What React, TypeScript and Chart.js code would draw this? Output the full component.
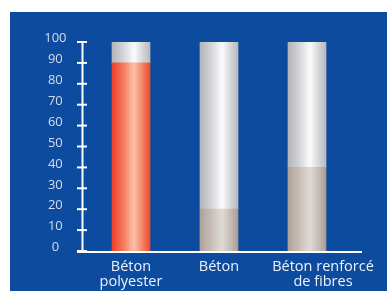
import React, { useEffect, useRef } from "react";
import { Chart, registerables } from "chart.js";

Chart.register(...registerables);

const categories: string[][] = [["Béton", "polyester"], ["Béton"], ["Béton renforcé", "de fibres"]];
const baseValues = [90, 20, 40];
const topValues = [10, 80, 60];
const yMin = 0;
const yMax = 100;
const yStep = 10;

const BLUE = "#0d4b9e";
const RED_STOPS: [number, string][] = [[0, "#ee4128"], [0.3, "#f57a5e"], [0.58, "#fcc2a8"], [0.85, "#f47458"], [1, "#ee4a30"]];
const BEIGE_STOPS: [number, string][] = [[0, "#aea197"], [0.3, "#c9bfb8"], [0.58, "#e0dad5"], [0.85, "#c0b5ad"], [1, "#a99c92"]];
const GREY_STOPS: [number, string][] = [[0, "#b3b5b9"], [0.3, "#d4d5d8"], [0.58, "#fbfbfc"], [0.85, "#cfd0d3"], [1, "#b8babe"]];
const LABEL_SHIFT = [0, 0, 16];

function gradFor(c: any, stops: [number, string][], fallback: string) {
  const chart = c.chart;
  const xs = chart.scales && chart.scales.x;
  if (!xs || !chart.chartArea) return fallback;
  const x = xs.getPixelForValue(c.dataIndex);
  const w = 38;
  const g = chart.ctx.createLinearGradient(x - w / 2, 0, x + w / 2, 0);
  stops.forEach(([o, col]) => g.addColorStop(o, col));
  return g;
}

const axisPlugin = {
  id: "customAxes",
  beforeDraw(chart: any) {
    const ctx = chart.ctx;
    ctx.save();
    ctx.fillStyle = "#ffffff";
    ctx.fillRect(0, 0, chart.width, chart.height);
    ctx.fillStyle = BLUE;
    ctx.fillRect(10, 12, chart.width - 10, chart.height - 12);
    ctx.restore();
  },
  afterDraw(chart: any) {
    const ctx = chart.ctx;
    const ys = chart.scales.y;
    const xs = chart.scales.x;
    const top = ys.getPixelForValue(yMax);
    const zero = ys.getPixelForValue(yMin);
    ctx.save();
    ctx.strokeStyle = "#ffffff";
    ctx.lineWidth = 2;
    ctx.beginPath();
    ctx.moveTo(82.5, top);
    ctx.lineTo(82.5, zero + 1);
    ctx.stroke();
    for (let v = yMin; v <= yMax; v += yStep) {
      const y = ys.getPixelForValue(v);
      ctx.beginPath();
      ctx.moveTo(77, y);
      ctx.lineTo(87, y);
      ctx.stroke();
    }
    ctx.beginPath();
    ctx.moveTo(77, zero + 1);
    ctx.lineTo(362, zero + 1);
    ctx.stroke();

    ctx.fillStyle = "#eef2fa";
    ctx.font = "14.5px 'Open Sans'";
    ctx.textAlign = "center";
    ctx.textBaseline = "alphabetic";
    categories.forEach((lines, i) => {
      const cx = xs.getPixelForValue(i) + LABEL_SHIFT[i];
      lines.forEach((t, j) => {
        ctx.fillText(t, cx, zero + 20 + j * 15.4);
      });
    });
    ctx.restore();
  },
};

export default function App() {
  const ref = useRef<HTMLCanvasElement>(null);
  useEffect(() => {
    if (!ref.current) return;
    const chart = new Chart(ref.current, {
      type: "bar",
      data: {
        labels: categories,
        datasets: [
          {
            data: baseValues,
            backgroundColor: (c: any) =>
              c.dataIndex === 0 ? gradFor(c, RED_STOPS, "#f47a5e") : gradFor(c, BEIGE_STOPS, "#c9bfb8"),
            barThickness: 38,
            borderWidth: 0,
          },
          {
            data: topValues,
            backgroundColor: (c: any) => gradFor(c, GREY_STOPS, "#d4d5d8"),
            barThickness: 38,
            borderWidth: 0,
          },
        ],
      },
      options: {
        animation: false,
        responsive: false,
        maintainAspectRatio: false,
        layout: { padding: { top: 42, right: 36, left: 0, bottom: 0 } },
        plugins: { legend: { display: false }, tooltip: { enabled: false } },
        scales: {
          x: {
            stacked: true,
            grid: { display: false, drawTicks: false },
            border: { display: false },
            afterFit: (s: any) => {
              s.height = 40;
            },
            ticks: { display: false },
          },
          y: {
            stacked: true,
            min: yMin,
            max: yMax,
            grid: { display: false, drawTicks: false },
            border: { display: false },
            afterFit: (s: any) => {
              s.width = 87;
            },
            ticks: {
              stepSize: yStep,
              color: "#d3ddf0",
              padding: 20.5,
              crossAlign: "center",
              labelOffset: -3.5,
              font: { family: "'Open Sans'", size: 13 },
            },
          },
        },
      },
      plugins: [axisPlugin],
    });
    return () => chart.destroy();
  }, []);
  return (
    <div style={{ position: "fixed", left: 0, top: 0, width: 387, height: 291 }}>
      <canvas ref={ref} width={387} height={291} style={{ width: 387, height: 291, display: "block" }} />
    </div>
  );
}
